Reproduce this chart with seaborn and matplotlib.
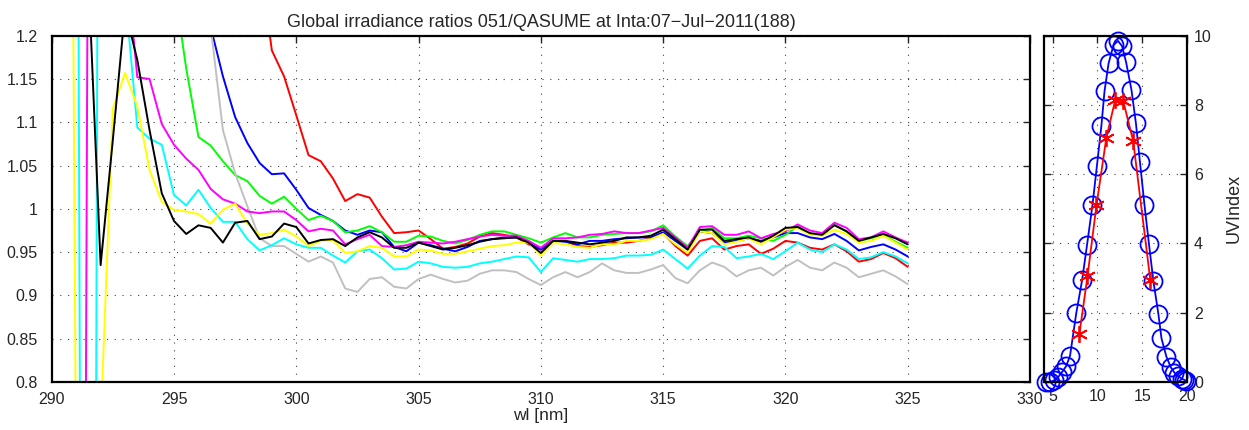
import numpy as np
import pandas as pd
import matplotlib
matplotlib.use("Agg")
import matplotlib.pyplot as plt
from matplotlib.ticker import FuncFormatter
import seaborn as sns

# wavelength grid of the ratio spectra (nm)
wl = np.arange(290, 325.01, 0.5)

# irradiance ratios, one list per scan
red = [3.0, 3.0, 2.8, 2.6, 2.4, 2.2, 2.0, 1.9, 1.8, 1.7,
       1.65, 1.6, 1.55, 1.5, 1.45, 1.42, 1.38, 1.29, 1.183, 1.153,
       1.108, 1.062, 1.055, 1.035, 1.009, 1.017, 1.013, 0.991, 0.972, 0.973,
       0.975, 0.965, 0.954, 0.956, 0.960, 0.968, 0.972, 0.970, 0.967, 0.959,
       0.953, 0.963, 0.963, 0.957, 0.956, 0.958, 0.961, 0.961, 0.963, 0.966,
       0.972, 0.957, 0.946, 0.963, 0.966, 0.953, 0.957, 0.959, 0.948, 0.954,
       0.963, 0.961, 0.955, 0.953, 0.959, 0.951, 0.939, 0.942, 0.949, 0.943,
       0.933]
blue = [3.0, 3.0, 2.8, 2.6, 2.4, 2.2, 2.0, 1.9, 1.8, 1.7,
        1.6, 1.5, 1.35, 1.21, 1.153, 1.106, 1.076, 1.053, 1.040, 1.041,
        1.022, 1.001, 0.993, 0.986, 0.975, 0.970, 0.975, 0.973, 0.956, 0.951,
        0.961, 0.958, 0.954, 0.951, 0.956, 0.963, 0.965, 0.967, 0.967, 0.961,
        0.953, 0.963, 0.962, 0.959, 0.963, 0.963, 0.965, 0.966, 0.967, 0.967,
        0.973, 0.963, 0.953, 0.974, 0.972, 0.961, 0.963, 0.966, 0.963, 0.967,
        0.972, 0.972, 0.967, 0.965, 0.971, 0.963, 0.952, 0.956, 0.959, 0.953,
        0.945]
green = [3.0, 3.0, 2.8, 2.5, 2.2, 2.0, 1.8, 1.65, 1.5, 1.38,
         1.26, 1.162, 1.083, 1.073, 1.055, 1.039, 1.032, 1.015, 1.006, 1.014,
         1.0, 0.987, 0.992, 0.986, 0.973, 0.975, 0.980, 0.973, 0.962, 0.962,
         0.969, 0.968, 0.963, 0.960, 0.964, 0.970, 0.974, 0.974, 0.970, 0.966,
         0.961, 0.967, 0.972, 0.967, 0.967, 0.970, 0.971, 0.972, 0.972, 0.974,
         0.981, 0.968, 0.957, 0.974, 0.978, 0.966, 0.966, 0.969, 0.966, 0.963,
         0.970, 0.980, 0.971, 0.970, 0.982, 0.974, 0.963, 0.966, 0.970, 0.962,
         0.955]
gray = [3.0, 3.0, 2.8, 2.6, 2.4, 2.2, 2.0, 1.85, 1.7, 1.6,
        1.5, 1.42, 1.33, 1.21, 1.091, 1.041, 1.003, 0.966, 0.957, 0.957,
        0.948, 0.939, 0.945, 0.938, 0.908, 0.904, 0.919, 0.921, 0.910, 0.908,
        0.919, 0.924, 0.919, 0.915, 0.917, 0.925, 0.929, 0.929, 0.927, 0.919,
        0.912, 0.921, 0.927, 0.921, 0.927, 0.937, 0.929, 0.926, 0.926, 0.930,
        0.935, 0.920, 0.914, 0.929, 0.938, 0.933, 0.922, 0.929, 0.932, 0.923,
        0.933, 0.941, 0.932, 0.929, 0.938, 0.932, 0.921, 0.925, 0.929, 0.922,
        0.913]
magenta = [-2.0, -2.0, -2.0, 1.5, 3.0, 3.0, 1.3, 1.152, 1.150, 1.098,
           1.074, 1.058, 1.045, 1.023, 1.011, 1.006, 0.997, 0.995, 0.997, 0.997,
           0.987, 0.974, 0.977, 0.975, 0.959, 0.965, 0.970, 0.957, 0.956, 0.958,
           0.962, 0.961, 0.960, 0.962, 0.965, 0.968, 0.970, 0.969, 0.969, 0.963,
           0.955, 0.966, 0.966, 0.967, 0.970, 0.971, 0.974, 0.972, 0.972, 0.975,
           0.978, 0.967, 0.955, 0.979, 0.980, 0.970, 0.970, 0.974, 0.966, 0.971,
           0.974, 0.982, 0.975, 0.972, 0.984, 0.978, 0.965, 0.967, 0.974, 0.967,
           0.961]
cyan = [2.0, 2.0, 2.0, -2.0, 2.4, 2.0, 1.25, 1.094, 1.081, 1.074,
        1.016, 1.004, 1.022, 1.001, 0.985, 0.985, 0.965, 0.952, 0.958, 0.966,
        0.959, 0.955, 0.955, 0.946, 0.938, 0.951, 0.953, 0.943, 0.930, 0.931,
        0.939, 0.937, 0.933, 0.932, 0.933, 0.937, 0.939, 0.942, 0.945, 0.944,
        0.927, 0.943, 0.941, 0.939, 0.942, 0.942, 0.943, 0.946, 0.946, 0.947,
        0.953, 0.942, 0.931, 0.946, 0.957, 0.956, 0.943, 0.945, 0.948, 0.942,
        0.951, 0.961, 0.953, 0.950, 0.959, 0.953, 0.942, 0.944, 0.950, 0.945,
        0.937]
yellow = [3.0, 3.0, 0.67, 0.5, 0.75, 1.116, 1.157, 1.118, 1.045, 1.008,
          0.999, 0.997, 0.994, 0.983, 0.999, 1.006, 0.983, 0.970, 0.972, 0.976,
          0.968, 0.957, 0.963, 0.964, 0.949, 0.951, 0.957, 0.955, 0.945, 0.945,
          0.953, 0.952, 0.948, 0.948, 0.951, 0.954, 0.957, 0.958, 0.961, 0.961,
          0.946, 0.961, 0.959, 0.956, 0.955, 0.959, 0.959, 0.963, 0.963, 0.965,
          0.971, 0.959, 0.949, 0.974, 0.972, 0.959, 0.962, 0.966, 0.959, 0.967,
          0.976, 0.978, 0.970, 0.969, 0.976, 0.971, 0.961, 0.963, 0.969, 0.961,
          0.953]
black = [3.0, 3.0, 3.0, 1.27, 0.935, 1.08, 1.23, 1.172, 1.091, 1.018,
         0.986, 0.971, 0.981, 0.978, 0.961, 0.984, 0.986, 0.965, 0.968, 0.983,
         0.979, 0.960, 0.964, 0.965, 0.957, 0.967, 0.973, 0.967, 0.955, 0.955,
         0.961, 0.957, 0.953, 0.955, 0.958, 0.962, 0.965, 0.966, 0.967, 0.961,
         0.949, 0.963, 0.963, 0.961, 0.959, 0.961, 0.963, 0.967, 0.967, 0.969,
         0.976, 0.965, 0.953, 0.976, 0.976, 0.963, 0.965, 0.967, 0.962, 0.969,
         0.978, 0.979, 0.972, 0.970, 0.981, 0.974, 0.963, 0.967, 0.971, 0.966,
         0.959]

series = {'red': red, 'blue': blue, 'green': green, 'gray': gray,
          'magenta': magenta, 'cyan': cyan, 'yellow': yellow, 'black': black}
palette = {'red': '#ff0000', 'blue': '#0000ff', 'green': '#00ff00', 'gray': '#c0c0c0',
           'magenta': '#ff00ff', 'cyan': '#00ffff', 'yellow': '#ffff00', 'black': '#000000'}

# UV index through the day
qasume_hour = [4.3, 4.75, 5.2, 5.65, 6.1, 6.5, 6.95, 7.65, 8.3, 8.85, 9.45, 9.95,
               10.45, 10.8, 11.25, 11.8, 12.3, 12.75, 13.2, 13.8, 14.3, 14.75,
               15.25, 15.75, 16.25, 16.8, 17.15, 17.7, 18.2, 18.6, 19.0, 19.4, 19.7, 19.9]
qasume_uvi = [0.0, 0.0, 0.05, 0.15, 0.3, 0.45, 0.75, 1.99, 2.94, 3.96, 5.1, 6.24,
              7.4, 8.4, 9.2, 9.73, 9.85, 9.7, 9.24, 8.44, 7.47, 6.35,
              5.12, 3.99, 2.91, 1.97, 1.26, 0.73, 0.42, 0.27, 0.17, 0.1, 0.06, 0.03]
brw_hour = [8.0, 8.9, 9.9, 11.0, 12.0, 12.9, 14.0, 15.9]
brw_uvi = [1.4, 3.05, 5.1, 7.05, 8.15, 8.1, 6.95, 2.95]

df = pd.DataFrame({
    'wl': np.tile(wl, len(series)),
    'ratio': np.concatenate([series[k] for k in series]),
    'scan': np.repeat(list(series.keys()), len(wl)),
})

sns.set_style("white")
plt.rcParams['font.family'] = ['Liberation Sans', 'DejaVu Sans']
plt.rcParams['font.size'] = 11.5

fig = plt.figure(figsize=(12.49, 4.30), dpi=100)
ax = fig.add_axes([0.0414, 0.1116, 0.7833, 0.8054])
ax2 = fig.add_axes([0.8355, 0.1116, 0.1149, 0.8054])

sns.lineplot(data=df, x='wl', y='ratio', hue='scan', hue_order=list(series.keys()),
             palette=palette, estimator=None, legend=False, lw=1.4, ax=ax)
ax.set_xlim(290, 330)
ax.set_ylim(0.8, 1.2)
ax.set_xticks(np.arange(290, 331, 5))
ax.set_yticks(np.arange(0.8, 1.201, 0.05))
ax.yaxis.set_major_formatter(FuncFormatter(lambda v, p: f"{v:g}"))
ax.set_xlabel("wl [nm]", fontsize=12.5, labelpad=1)
ax.set_ylabel("")
ax.set_title("Global irradiance ratios 051/QASUME at Inta:07\u2212Jul\u22122011(188)",
             fontsize=13, pad=6)

sns.lineplot(x=qasume_hour, y=qasume_uvi, ax=ax2, color='blue', lw=1.3, marker='o',
             markersize=13, markerfacecolor='none', markeredgecolor='blue',
             markeredgewidth=1.3, clip_on=False)
sns.lineplot(x=brw_hour, y=brw_uvi, ax=ax2, color='red', lw=1.3, marker=(6, 2, 0),
             markersize=12, markeredgecolor='red', markeredgewidth=1.3, clip_on=False)
ax2.set_xlim(4, 20)
ax2.set_ylim(0, 10)
ax2.set_xticks([5, 10, 15, 20])
ax2.set_yticks(np.arange(0, 11, 2))
ax2.yaxis.set_label_position('right')
ax2.set_ylabel("UVIndex", fontsize=13, labelpad=10)

for a in (ax, ax2):
    a.grid(True, linestyle=(0, (1, 6)), color='0.25', lw=0.8)
    a.set_axisbelow(True)
    for s in a.spines.values():
        s.set_linewidth(1.6)
        s.set_color('black')
    a.tick_params(direction='in', length=5, width=1, top=True, right=True,
                  labelsize=11.5, pad=7)
ax.tick_params(axis='y', pad=10)
ax2.tick_params(labelleft=False, labelright=True, left=True, pad=5)

fig.savefig("out.png", dpi=100)
